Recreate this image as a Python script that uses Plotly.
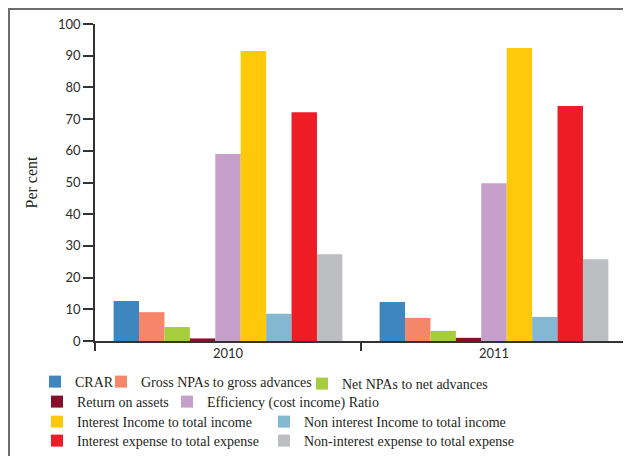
import plotly.graph_objects as go

years = ["2010", "2011"]
series_names = [
    "CRAR",
    "Gross NPAs to gross advances",
    "Net NPAs to net advances",
    "Return on assets",
    "Efficiency (cost income) Ratio",
    "Interest Income to total income",
    "Non interest Income to total income",
    "Interest expense to total expense",
    "Non-interest expense to total expense",
]
crar = [12.6, 12.3]
gross_npa = [9.1, 7.3]
net_npa = [4.4, 3.2]
roa = [0.8, 1.0]
efficiency = [59.0, 49.8]
int_income = [91.5, 92.4]
nonint_income = [8.6, 7.6]
int_expense = [72.2, 74.1]
nonint_expense = [27.4, 25.8]
values = [crar, gross_npa, net_npa, roa, efficiency, int_income,
          nonint_income, int_expense, nonint_expense]
colors = ["#3f86bf", "#f5866a", "#a6cd3b", "#85102a", "#c6a0cb",
          "#fec90a", "#84b8d2", "#ee1c25", "#bdbec2"]

# legend anchor positions in page pixels (left, center-y)
leg_pos = [(35, 382), (101, 382), (302, 384), (37, 402), (167, 402),
           (37, 422), (264, 422), (37, 441), (264, 441)]

OFF = 8  # page body margin
W, H = 631, 456
L, R, T, B = 95 - OFF, 12, 24 - OFF, 456 - 341 + OFF
pw = W - L - R
ph = H - T - B

def px2x(px):
    return (px - OFF - L) / pw

def py2y(py):
    return (H - B - (py - OFF)) / ph

fig = go.Figure()
layout_legends = {}
for i, (name, vals, col) in enumerate(zip(series_names, values, colors)):
    lname = "legend" if i == 0 else f"legend{i+1}"
    fig.add_trace(go.Bar(x=years, y=vals, name=name, marker_color=col,
                         marker_line_width=0, legend=lname))
    lx, ly = leg_pos[i]
    layout_legends[lname] = dict(
        x=px2x(lx), y=py2y(ly), xanchor="left", yanchor="middle",
        orientation="h", bgcolor="rgba(0,0,0,0)", borderwidth=0,
        font=dict(family="Liberation Serif", size=14, color="#231f20"),
        itemclick=False, itemdoubleclick=False,
    )

fig.update_layout(
    width=W, height=H,
    margin=dict(l=L, r=R, t=T, b=B, pad=0, autoexpand=False),
    paper_bgcolor="white", plot_bgcolor="white",
    barmode="group", bargap=0.14, bargroupgap=0,
    showlegend=True,
    **layout_legends,
)
fig.update_xaxes(
    automargin=False,
    showline=True, linecolor="#333333", linewidth=1.5,
    ticks="outside", tickson="boundaries", ticklen=8, tickcolor="#333333",
    tickwidth=1.5,
    tickfont=dict(family="Lato", size=13, color="#2b2b2b"),
    showgrid=False,
)
fig.update_yaxes(
    automargin=False,
    range=[0, 100], dtick=10, showline=True, linecolor="#333333", linewidth=1.5,
    ticks="outside", ticklen=10, tickcolor="#333333", tickwidth=1.5,
    tickfont=dict(family="Lato", size=13, color="#2b2b2b"),
    showgrid=False, zeroline=False,
    title=dict(text="Per cent", font=dict(family="Liberation Serif", size=16,
                                           color="#231f20"), standoff=16),
)
# outer frame
fig.add_shape(type="rect", xref="paper", yref="paper",
              x0=px2x(9), x1=px2x(700), y0=py2y(600), y1=py2y(9),
              line=dict(color="#6d6d6d", width=2), fillcolor="rgba(0,0,0,0)",
              layer="below")

fig.write_html("out.html")
